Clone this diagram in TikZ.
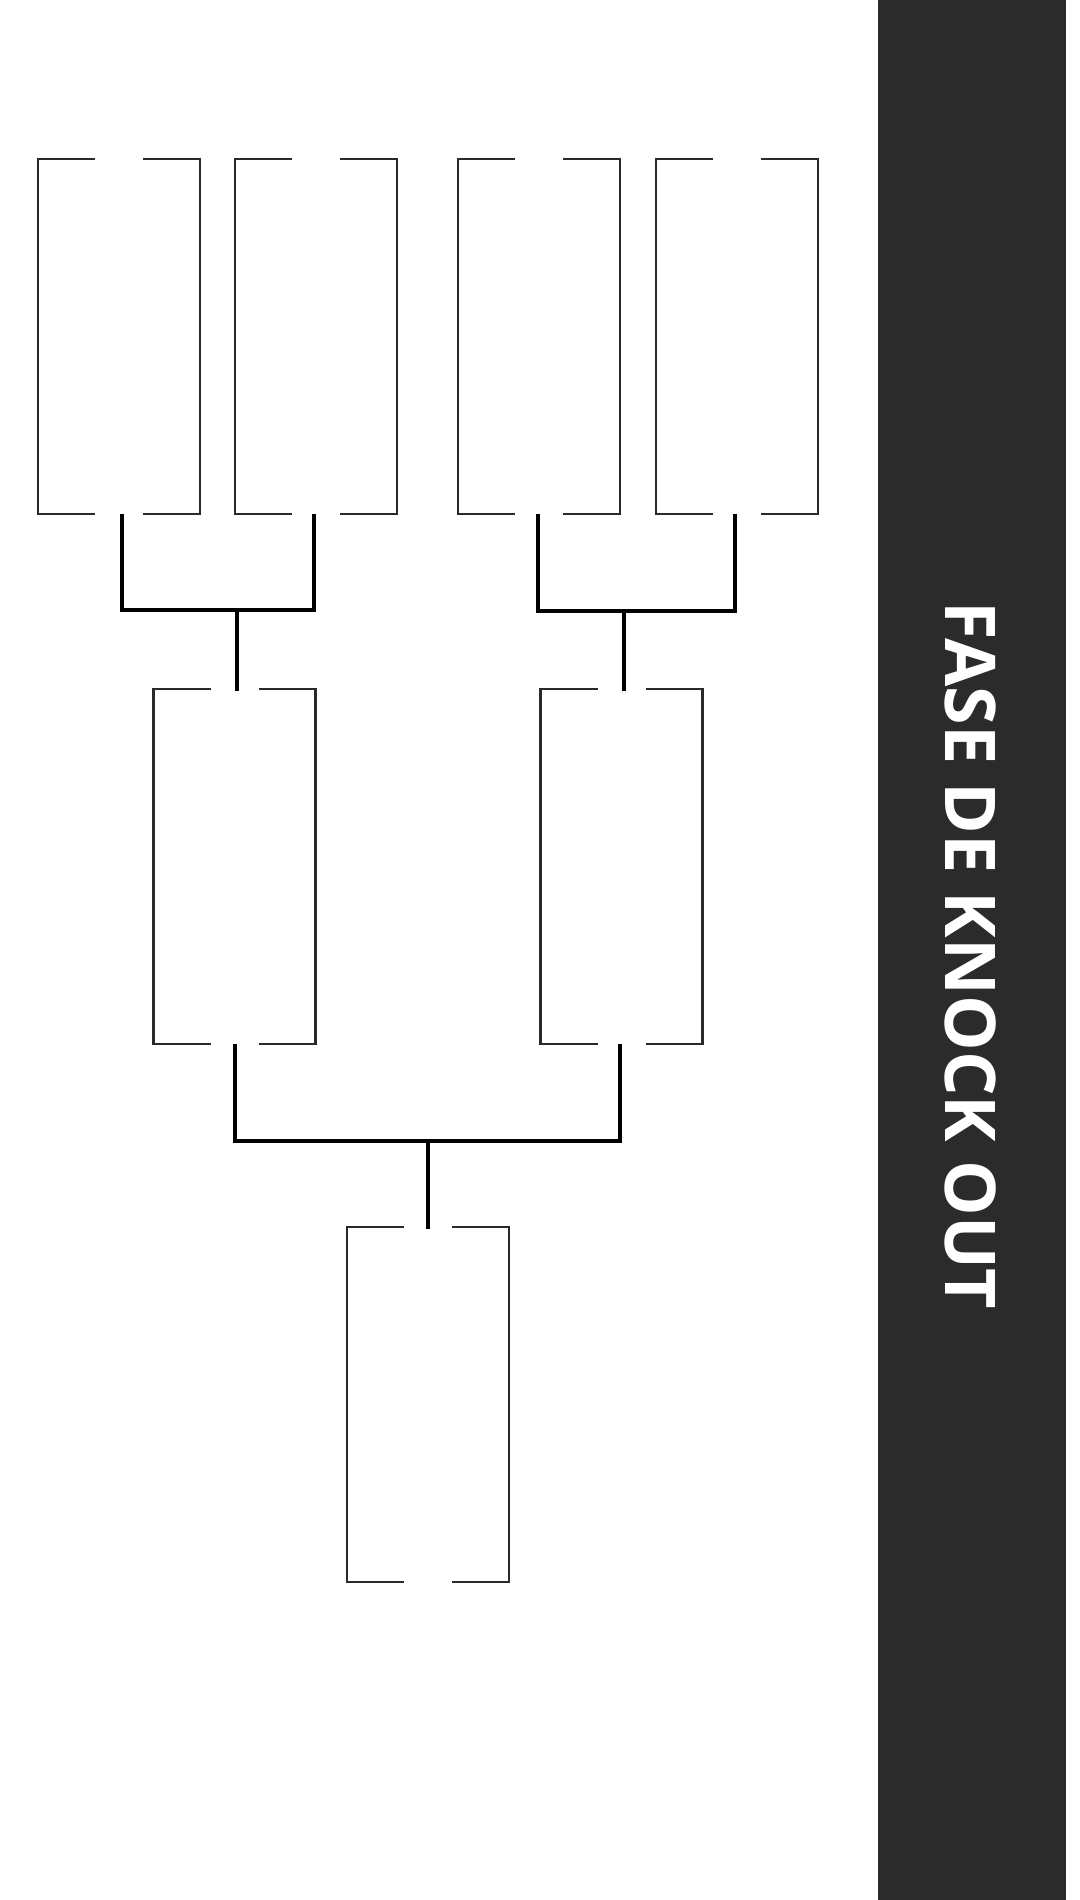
\documentclass[tikz,border=0pt]{standalone}
\usepackage{fontspec}
\newfontfamily\titlefont{Open Sans}
\definecolor{panel}{HTML}{2B2B2B}
\definecolor{boxgray}{HTML}{2A2A2A}
\newcommand\slotlines[1]{%
  \draw[boxline] ([xshift=-12pt]#1.north) -- (#1.north west) -- (#1.south west) -- ([xshift=-12pt]#1.south);
  \draw[boxline] ([xshift=12pt]#1.north) -- (#1.north east) -- (#1.south east) -- ([xshift=12pt]#1.south);}
\begin{document}
\begin{tikzpicture}[x=0.5pt,y=-0.5pt,
  boxline/.style={draw=boxgray, line width=1.45pt},
  conn/.style={draw=black, line width=2pt, line cap=rect, line join=miter},
  slot/.style={minimum width=81pt, minimum height=177.5pt, inner sep=0pt, outer sep=0pt, draw=none}]
\fill[white] (0,0) rectangle (1080,1900);
\fill[panel] (878,0) rectangle (1066,1900);
\node[text=white, rotate=-90, inner sep=0pt] (title) at (971,955.5)
  {\titlefont\bfseries\fontsize{35pt}{35pt}\selectfont FASE DE KNOCK OUT};
% slots
\node[slot] (A) at (119,336.5) {};
\node[slot] (B) at (316,336.5) {};
\node[slot] (C) at (539,336.5) {};
\node[slot] (D) at (737,336.5) {};
\node[slot] (E) at (234.5,866.5) {};
\node[slot] (F) at (621.5,866.5) {};
\node[slot] (G) at (428,1404.5) {};
\foreach \n in {A,B,C,D,E,F,G} {\slotlines{\n}}
% connector end points
\coordinate (a) at ([xshift=1.5pt,yshift=-1pt]A.south);
\coordinate (b) at ([xshift=-1pt,yshift=-1pt]B.south);
\coordinate (c) at ([xshift=-0.5pt,yshift=-1pt]C.south);
\coordinate (d) at ([xshift=-1pt,yshift=-1pt]D.south);
\coordinate (e) at ([xshift=0.25pt,yshift=-1pt]E.south);
\coordinate (f) at ([xshift=-0.75pt,yshift=-1pt]F.south);
\coordinate (en) at ([xshift=1.25pt]E.north);
\coordinate (fn) at ([xshift=1.25pt]F.north);
\coordinate (j1) at (en |- 0,610);
\coordinate (j2) at (fn |- 0,611);
\coordinate (j3) at (G.north |- 0,1141);
% connectors
\draw[conn] (a) -- (a |- j1) -- (b |- j1) -- (b);
\draw[conn] (j1) -- (en);
\draw[conn] (c) -- (c |- j2) -- (d |- j2) -- (d);
\draw[conn] (j2) -- (fn);
\draw[conn] (e) -- (e |- j3) -- (f |- j3) -- (f);
\draw[conn] ([yshift=-1.5pt]j3) -- (G.north);
\end{tikzpicture}
\end{document}
